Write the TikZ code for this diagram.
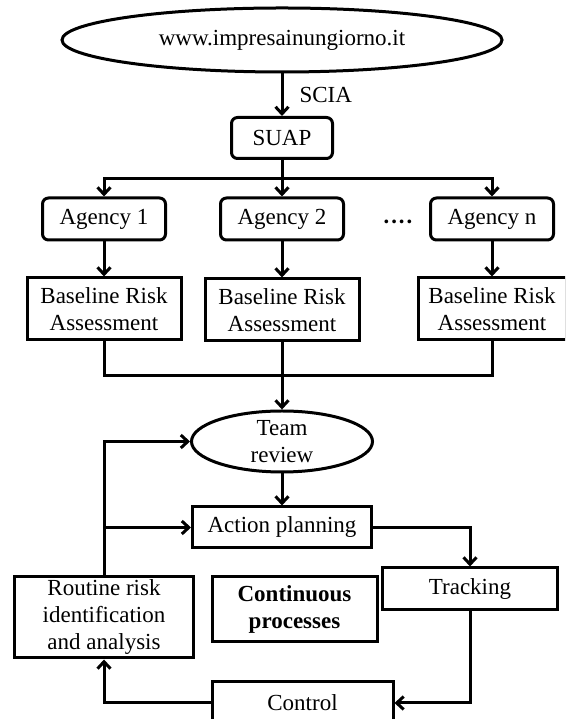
\documentclass[tikz,border=0pt]{standalone}
\usepackage{fontspec}
\setmainfont{Liberation Serif}
\usepackage{tikz}
\usetikzlibrary{calc}
\usetikzlibrary{arrows.meta,shapes}
\usetikzlibrary{positioning}
\begin{document}
\begin{tikzpicture}[x=1pt,y=1pt,line width=3pt,
    every node/.style={font=\fontsize{23}{27}\selectfont,align=center,inner sep=0pt},
    rbox/.style={draw,rectangle,rounded corners=6pt,minimum width=123pt,minimum height=42pt},
    sbox/.style={draw,rectangle},
    oval/.style={draw,ellipse},
    arr/.style={-{Straight Barb[length=7pt,width=13pt]}}]
      \useasboundingbox (0,0) rectangle (565,719);
      \clip (0,0) rectangle (565,719);
      \node[oval,minimum width=440pt,minimum height=64pt] (web) at (282,679) {www.impresainungiorno.it};
      \node[rbox,minimum width=101pt,minimum height=41pt] (suap) at (282,581) {SUAP};
      \node[rbox] (ag1) at (104,500) {Agency 1};
      \node[rbox] (ag2) at (282,500) {Agency 2};
      \node[rbox] (agn) at (492,500) {Agency n};
      \node (dots) at (398,494) {\textbf{····}};
      \node[sbox,minimum width=154pt,minimum height=62pt] (bra1) at (104,410) {Baseline Risk\\Assessment};
      \node[sbox,minimum width=154pt,minimum height=62pt] (bra2) at (282,409) {Baseline Risk\\Assessment};
      \node[sbox,minimum width=148pt,minimum height=62pt] (bran) at (492,410) {Baseline Risk\\Assessment};
      \node[oval,minimum width=181pt,minimum height=61pt] (team) at (282,277.5) {Team\\review};
      \node[sbox,minimum width=179pt,minimum height=41pt] (plan) at (282,191.5) {Action planning};
      \node[sbox,minimum width=179pt,minimum height=81pt] (routine) at (104,101.5) {Routine risk\\identification\\and analysis};
      \node[sbox,minimum width=165pt,minimum height=65pt] (cont) at (294.5,109.5) {\textbf{Continuous}\\\textbf{processes}};
      \node[sbox,minimum width=175pt,minimum height=42pt] (track) at (470,130) {Tracking};
      \node[sbox,minimum width=181pt,minimum height=42pt] (ctrl) at (302.5,16) {Control};
      \draw[arr] (web.south) -- node[midway,right=16pt] (scia) {SCIA} (suap.north);
      \draw (suap.south) -- ($(suap.south)!.5!(ag2.north)$) coordinate (split);
      \draw[arr] (split) -| (ag1.north);
      \draw[arr] (split) -- (ag2.north);
      \draw[arr] (split) -| (agn.north);
      \draw[arr] (ag1.south) -- (bra1.north);
      \draw[arr] (ag2.south) -- (bra2.north);
      \draw[arr] (agn.south) -- (bran.north);
      \coordinate (merge) at ($(bra2.south)!.5!(team.north)$);
      \draw (bra1.south) |- (merge) -| (bran.south);
      \draw[arr] (bra2.south) -- (team.north);
      \draw[arr] (team.south) -- (plan.north);
      \draw[arr] (plan.east) -| (track.north);
      \draw[arr] (track.south) |- (ctrl.east);
      \draw[arr] (ctrl.west) -| (routine.south);
      \draw[arr] (routine.north) |- (team.west);
      \draw[arr] (routine.north |- plan.west) -- (plan.west);
    \end{tikzpicture}
\end{document}
